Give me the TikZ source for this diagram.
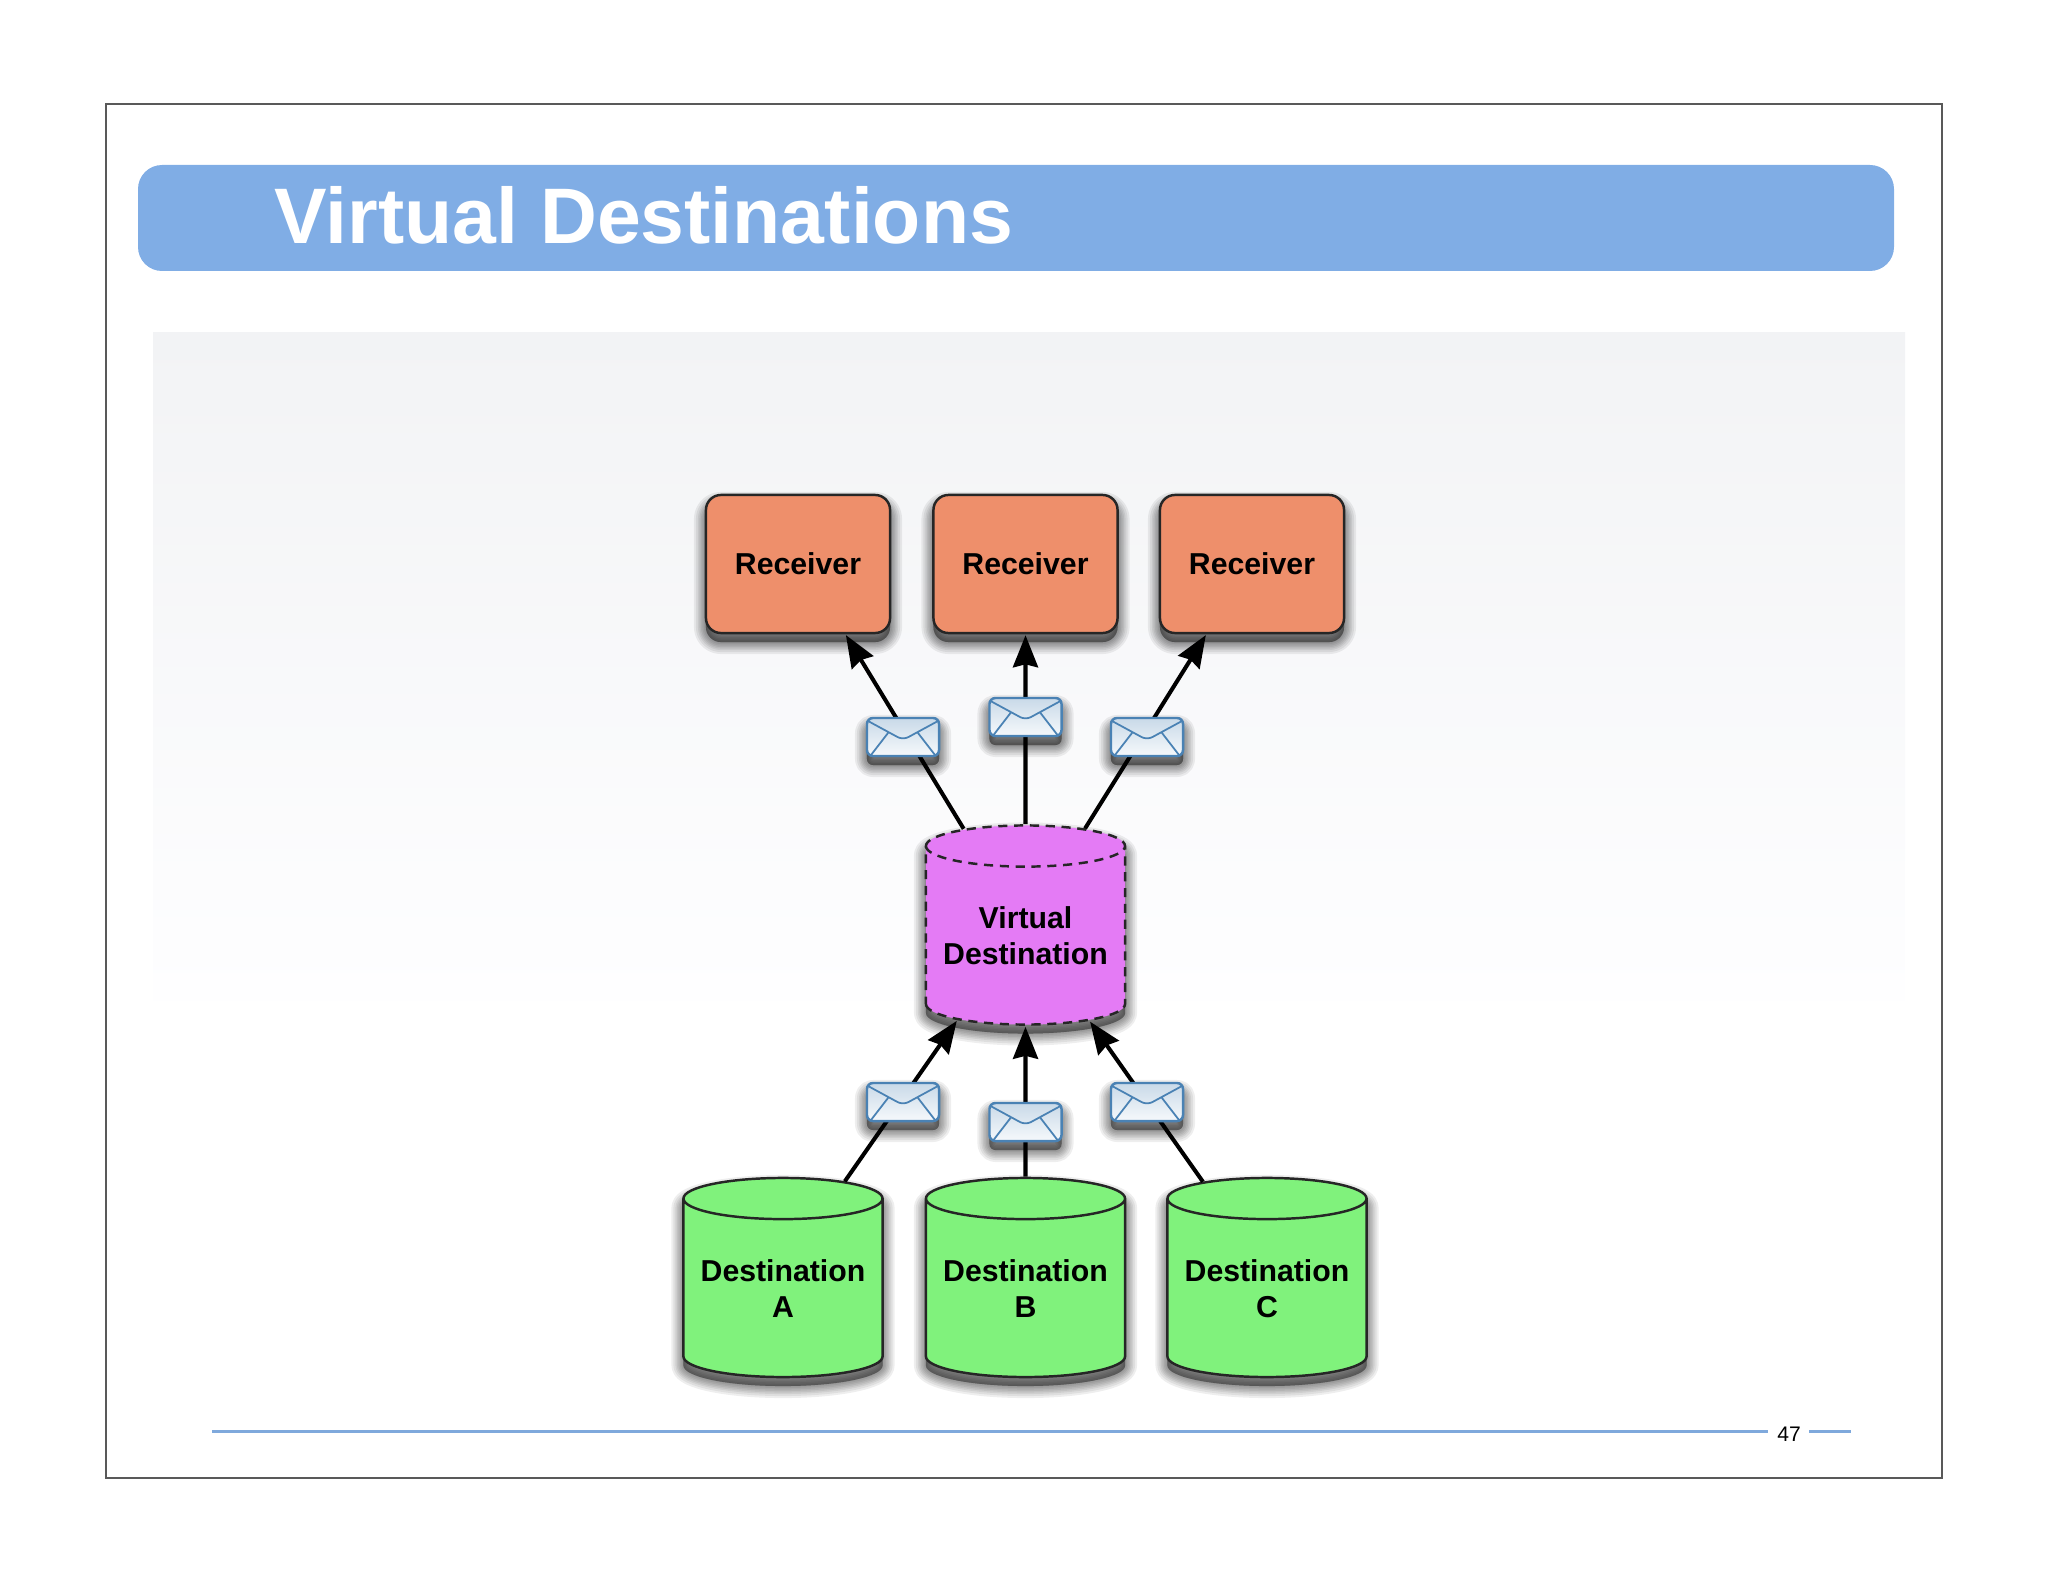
\documentclass[tikz,border=0pt]{standalone}
\usepackage{fontspec}
\setmainfont{Liberation Sans}
\usetikzlibrary{
    arrows.meta,
    shapes.geometric
}

\definecolor{bandblue}{HTML}{80ADE5}
\definecolor{ruleblue}{HTML}{7FA9DC}
\definecolor{recvorange}{HTML}{EE8F6B}
\definecolor{destgreen}{HTML}{80F27C}
\definecolor{virtpink}{HTML}{E47BF5}
\definecolor{envline}{HTML}{4A82B4}
\definecolor{panelgray}{HTML}{F2F3F5}
\definecolor{panelwhite}{HTML}{FEFEFF}

\tikzset{
    haze/.style={preaction={draw=black,fill=black,solid,line join=round,opacity=0.065,line width=#1,transform canvas={yshift=-0.09cm}}},
    soft/.style={haze=0.24cm,haze=0.2cm,haze=0.16cm,haze=0.13cm,haze=0.1cm,haze=0.07cm,haze=0.04cm,haze=0.01cm},
    receiver/.style={draw=black!85,line width=0.7pt,fill=recvorange,rounded corners=0.15cm,
        minimum width=1.84cm,minimum height=1.38cm,inner sep=0pt,soft,
        font=\fontsize{8.6pt}{10.2pt}\selectfont\bfseries},
    drum/.style={cylinder,shape border rotate=90,aspect=0.25,draw=black!85,line width=0.7pt,
        minimum width=1.99cm,minimum height=1.99cm,inner sep=0pt,anchor=shape center,align=center,soft,
        font=\fontsize{8.6pt}{10.2pt}\selectfont\bfseries},
    message/.style={draw=envline,line width=0.7pt,rounded corners=0.06cm,
        top color=envline!30,bottom color=envline!5,
        minimum width=0.72cm,minimum height=0.38cm,inner sep=0pt,soft,
        path picture={
            \draw[envline,line width=0.5pt,shift={(path picture bounding box.center)}]
                (-35,-16) -- (0,3) -- (35,-16)
                (-32,18) -- (-15,-4)
                (32,18) -- (15,-4);
        }},
    flow/.style={->,line width=1.15pt,shorten >=0.01cm}
}

\begin{document}
\begin{tikzpicture}[x=0.01cm,y=-0.01cm,>={Stealth[length=0.32cm,width=0.25cm,inset=0.03cm]}]

\useasboundingbox (0,0) rectangle (2048,1582);

%====================================================
% Slide
%====================================================

\draw[black!65,line width=0.4pt] (106,104) rectangle (1942,1478);
\fill[bandblue,rounded corners=0.24cm] (138,165) rectangle (1894,271);
\shade[top color=panelgray,bottom color=panelwhite] (153,332) rectangle (1905,1000);

\node[anchor=base west,inner sep=0pt,text=white,font=\fontsize{22.4pt}{26pt}\selectfont\bfseries] (T) at (274,244) {Virtual Destinations};

\coordinate (Ra) at (212,1431);
\coordinate (Rb) at (1768,1431);
\coordinate (Rc) at (1809,1431);
\coordinate (Rd) at (1851,1431);

\draw[ruleblue,line width=0.85pt] (Ra) -- (Rb);
\draw[ruleblue,line width=0.85pt] (Rc) -- (Rd);

\node[inner sep=0pt,font=\fontsize{6pt}{7pt}\selectfont] (N) at (1789,1434) {47};

%====================================================
% Receivers
%====================================================

\node[receiver] (R1) at (798,564) {Receiver};
\node[receiver] (R2) at (1025.5,564) {Receiver};
\node[receiver] (R3) at (1252,564) {Receiver};

%====================================================
% Virtual destination
%====================================================

\node[drum,fill=virtpink,dash pattern=on 2.6pt off 1.9pt] (V) at (1025.5,925) {Virtual\\Destination};

%====================================================
% Destinations
%====================================================

\node[drum,fill=destgreen] (D1) at (783,1277.5) {Destination\\A};
\node[drum,fill=destgreen] (D2) at (1025.5,1277.5) {Destination\\B};
\node[drum,fill=destgreen] (D3) at (1267,1277.5) {Destination\\C};

%====================================================
% Connectors
%====================================================

\draw[flow] (V.120) -- (R1.-56);
\draw[flow] (V.90) -- (R2.-90);
\draw[flow] (V.61) -- (R3.-123.4);

\draw[flow] (D1.60) -- (V.-129);
\draw[flow] (D2.90) -- (V.-90);
\draw[flow] (D3.121) -- (V.-53);

%====================================================
% Messages
%====================================================

\node[message] (M1) at (903,737) {};
\node[message] (M2) at (1025.5,717) {};
\node[message] (M3) at (1147,737) {};

\node[message] (M4) at (903,1102) {};
\node[message] (M5) at (1025.5,1122) {};
\node[message] (M6) at (1147,1102) {};

\end{tikzpicture}
\end{document}
